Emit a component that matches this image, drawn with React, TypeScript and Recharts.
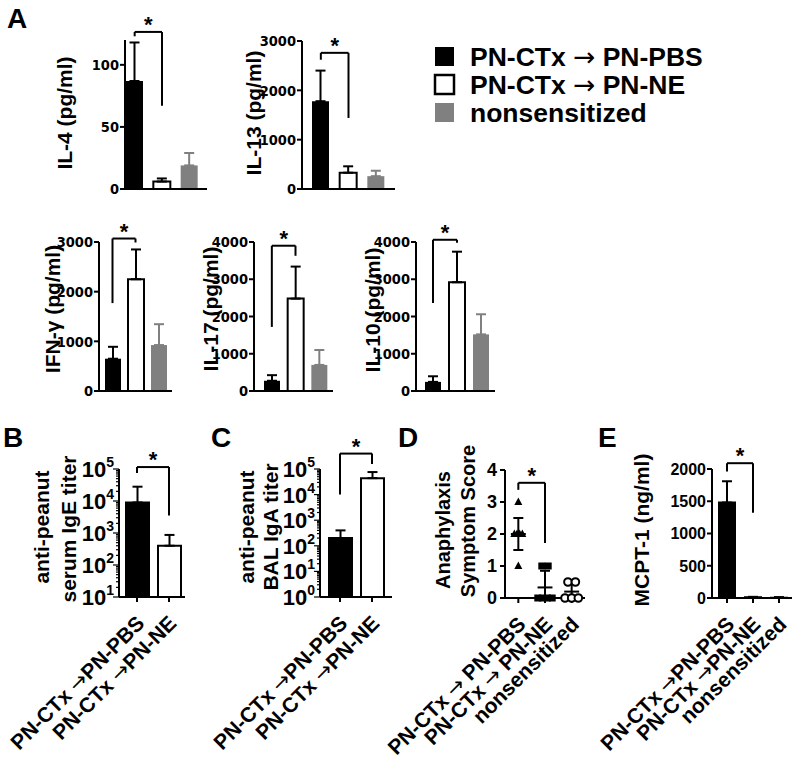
import React from 'react';
import { BarChart, Bar, XAxis, YAxis, ErrorBar, ReferenceLine, Cell, ComposedChart, Scatter } from 'recharts';

const FONT = '"Liberation Sans", Arial, Helvetica, sans-serif';
const NARROW = '"Liberation Sans Narrow", "Arial Narrow", "DejaVu Sans Condensed", sans-serif';
const ARROW_FONT = '"DejaVu Sans", sans-serif';
const GRAY = '#808080';

// group names
const groupsA = ['PN-CTx → PN-PBS', 'PN-CTx → PN-NE', 'nonsensitized'];
const groupsBC = ['PN-CTx →PN-PBS', 'PN-CTx →PN-NE'];
const groupsD = ['PN-CTx → PN-PBS', 'PN-CTx → PN-NE', 'nonsensitized'];
const groupsE = ['PN-CTx →PN-PBS', 'PN-CTx →PN-NE', 'nonsensitized'];

// panel A cytokines (pg/ml): mean and upper error
const il4Mean = [87, 6, 19];
const il4Err = [31, 2.5, 10];
const il13Mean = [1780, 330, 260];
const il13Err = [620, 130, 110];
const ifnMean = [650, 2250, 925];
const ifnErr = [240, 600, 420];
const il17Mean = [275, 2480, 700];
const il17Err = [150, 860, 400];
const il10Mean = [245, 2920, 1520];
const il10Err = [150, 820, 540];

const il4Ticks = [0, 50, 100];
const il13Ticks = [0, 1000, 2000, 3000];
const ifnTicks = [0, 1000, 2000, 3000];
const il4kTicks = [0, 1000, 2000, 3000, 4000];

// panel B / C titers
const igeMean = [9000, 400];
const igeErr = [19000, 470];
const igaMean = [200, 44000];
const igaErr = [200, 32000];
const decadesB = [10, 100, 1000, 10000, 100000];
const decadesC = [1, 10, 100, 1000, 10000, 100000];
const minorSteps = [2, 3, 4, 5, 6, 7, 8, 9];

// panel D anaphylaxis scores (individual mice)
const dScoresPbs = [3, 2, 2, 2, 2, 1];
const dSpreadPbs = [0, -0.15, -0.05, 0.05, 0.15, 0];
const dScoresNe = [1, 1, 0, 0, 0, 0];
const dSpreadNe = [-0.12, 0.12, -0.27, -0.09, 0.09, 0.27];
const dScoresNon = [0.5, 0.5, 0, 0, 0];
const dSpreadNon = [-0.14, 0.14, -0.25, 0, 0.25];
const dMeans = [2, 0.33, 0.2];
const dErrs = [[0.5, 0.5], [0.33, 0.52], [0.2, 0.27]];
const dTicks = [0, 1, 2, 3, 4];

// panel E MCPT-1 (ng/ml)
const mcptMean = [1480, 12, 8];
const mcptErr = [330, 6, 5];
const mcptTicks = [0, 500, 1000, 1500, 2000];

const axisStyle = { stroke: '#000', strokeWidth: 2 };

const cytoKeys = ['pbs', 'ne', 'non'];
function cytoRows(mean: number[], err: number[]) {
  return groupsA.map((name, i) => {
    const row: any = { name };
    cytoKeys.forEach((k, j) => {
      row[k] = i === j ? mean[i] : null;
      row[k + 'Err'] = i === j ? [0, err[i]] : null;
    });
    return row;
  });
}
const cytoSeries = [
  { key: 'pbs', fill: '#000', stroke: 'none', err: '#000' },
  { key: 'ne', fill: '#fff', stroke: '#000', err: '#000' },
  { key: 'non', fill: GRAY, stroke: 'none', err: GRAY },
];

function simpleRows(names: string[], mean: number[], err: number[]) {
  return names.map((name, i) => ({ name, v: mean[i], vErr: [0, err[i]] }));
}

function logTicks(decades: number[]) {
  const out: number[] = [];
  decades.forEach((d, i) => {
    out.push(d);
    if (i < decades.length - 1) minorSteps.forEach((m) => out.push(d * m));
  });
  return out;
}

// splits a label so the arrow can use a font with a wide arrow glyph
function withArrow(text: string) {
  const parts = text.split('→');
  if (parts.length < 2) return text;
  return [
    <tspan key="a">{parts[0]}</tspan>,
    <tspan key="b" fontFamily={ARROW_FONT} fontWeight={400}>→</tspan>,
    <tspan key="c">{parts[1]}</tspan>,
  ];
}

const LogTick = (props: any) => {
  const { x, y, payload } = props;
  const lg = Math.log10(payload.value);
  const exp = Math.round(lg);
  const major = Math.abs(lg - exp) < 1e-6;
  return (
    <g>
      <line x1={x - (major ? 6 : 3)} x2={x} y1={y} y2={y} stroke="#000" strokeWidth={1.2} />
      {major && (
        <text x={x - 5} y={y + 8} textAnchor="end" fontSize={22} fontWeight={700} fontFamily={FONT} fill="#000">
          <tspan>10</tspan>
          <tspan dy={-10} fontSize={14}>{exp}</tspan>
        </text>
      )}
    </g>
  );
};

const numTick = (size: number, family: string) => (props: any) => {
  const { x, y, payload } = props;
  return (
    <text x={x} y={y + size * 0.36} textAnchor="end" fontSize={size} fontWeight={700} fontFamily={family} fill="#000">
      {payload.value}
    </text>
  );
};

const slantTick = (labels?: string[]) => (props: any) => {
  const { x, y, payload } = props;
  const text = labels ? labels[Math.round(payload.value) - 1] : payload.value;
  const px = x - 2;
  const py = y + 10;
  return (
    <text x={px} y={py} transform={`rotate(-45 ${px} ${py})`} textAnchor="end" dominantBaseline="hanging"
      fontSize={21} fontWeight={700} fontFamily={FONT} fill="#000">
      {withArrow(text)}
    </text>
  );
};

function Bracket(p: { a: any; b: any; yL: number; yT: number; yR: number }) {
  const common = { stroke: '#000', strokeWidth: 2, ifOverflow: 'visible' as const, xAxisId: 'g' };
  return [
    <ReferenceLine key="l" {...common} segment={[{ x: p.a, y: p.yL }, { x: p.a, y: p.yT }]} />,
    <ReferenceLine key="t" {...common} segment={[{ x: p.a, y: p.yT }, { x: p.b, y: p.yT }]}
      label={{ value: '*', position: 'top', offset: 0, fill: '#000', fontSize: 22, fontWeight: 700, fontFamily: FONT }} />,
    <ReferenceLine key="r" {...common} segment={[{ x: p.b, y: p.yT }, { x: p.b, y: p.yR }]} />,
  ];
}

type PanelProps = {
  left: number; top: number; w: number; h: number;
  rows: any[]; series: any[]; cells?: { fill: string; stroke: string }[];
  domain: [number, number]; ticks: number[]; log?: boolean;
  padL: number; padR: number; barSize: number; tickFont?: number; tickFamily?: string;
  bracket: { yL: number; yT: number; yR: number };
  xLabels?: boolean;
};

function BarPanel(p: PanelProps) {
  const YW = p.xLabels ? 140 : 80;
  const MT = 50;
  const MR = 12;
  const XH = p.xLabels ? 180 : 12;
  const names = p.rows.map((r) => r.name);
  return (
    <div style={{ position: 'absolute', left: p.left - YW, top: p.top - MT }}>
      <BarChart width={YW + p.w + MR} height={MT + p.h + XH} data={p.rows}
        margin={{ top: MT, right: MR, bottom: 0, left: 0 }} barCategoryGap={0} barGap={0}>
        <XAxis dataKey="name" xAxisId="g" height={XH} padding={{ left: p.padL, right: p.padR }}
          axisLine={axisStyle} tickLine={axisStyle} tickSize={5} interval={0}
          tick={p.xLabels ? slantTick() : false} />
        {p.log ? (
          <YAxis width={YW} scale="log" domain={p.domain} allowDataOverflow ticks={p.ticks} interval={0}
            axisLine={axisStyle} tickLine={false} tickSize={0} tickMargin={0} tick={<LogTick />} />
        ) : (
          <YAxis width={YW} domain={p.domain} ticks={p.ticks} interval={0} axisLine={axisStyle}
            tickLine={axisStyle} tickSize={5} tickMargin={1}
            tick={numTick(p.tickFont || 14.5, p.tickFamily || NARROW)} />
        )}
        {p.series.map((s) => (
          <Bar key={s.key} dataKey={s.key} xAxisId="g" stackId="s" fill={s.fill} stroke={s.stroke}
            strokeWidth={2} barSize={p.barSize} isAnimationActive={false}>
            {p.cells && p.cells.map((c, i) => <Cell key={i} fill={c.fill} stroke={c.stroke} />)}
            <ErrorBar dataKey={s.key + 'Err'} direction="y" width={5} stroke={s.err} strokeWidth={2} />
          </Bar>
        ))}
        {Bracket({ a: names[0], b: names[1], ...p.bracket })}
      </BarChart>
    </div>
  );
}

const triShape = (pr: any) => (
  <polygon points={`${pr.cx},${pr.cy - 4.5} ${pr.cx - 4},${pr.cy + 3} ${pr.cx + 4},${pr.cy + 3}`} fill="#000" />
);
const sqShape = (pr: any) => <rect x={pr.cx - 3.5} y={pr.cy - 3.5} width={7} height={7} fill="#000" />;
const circShape = (pr: any) => <circle cx={pr.cx} cy={pr.cy} r={3.8} fill="#fff" stroke="#000" strokeWidth={2} />;
const noShape = () => <g />;

function pts(base: number, scores: number[], spread: number[]) {
  return scores.map((s, i) => ({ x: base + spread[i], y: s }));
}

function PanelD() {
  const left = 505, top = 470, w = 80, h = 128;
  const YW = 140, MT = 50, MR = 12, XH = 180;
  const means = dMeans.map((m, i) => ({ x: i + 1, y: m, sd: dErrs[i], xw: 0.28 }));
  return (
    <div style={{ position: 'absolute', left: left - YW, top: top - MT }}>
      <ComposedChart width={YW + w + MR} height={MT + h + XH} margin={{ top: MT, right: MR, bottom: 0, left: 0 }}>
        <XAxis type="number" dataKey="x" xAxisId="g" domain={[0.5, 3.5]} ticks={[1, 2, 3]} interval={0} height={XH}
          axisLine={axisStyle} tickLine={axisStyle} tickSize={5} tick={slantTick(groupsD)} />
        <YAxis type="number" dataKey="y" width={YW} domain={[0, 4]} ticks={dTicks} interval={0} axisLine={axisStyle}
          tickLine={axisStyle} tickSize={5} tickMargin={3} tick={numTick(18, FONT)} />
        <Scatter xAxisId="g" data={pts(1, dScoresPbs, dSpreadPbs)} shape={triShape} isAnimationActive={false} />
        <Scatter xAxisId="g" data={pts(2, dScoresNe, dSpreadNe)} shape={sqShape} isAnimationActive={false} />
        <Scatter xAxisId="g" data={pts(3, dScoresNon, dSpreadNon)} shape={circShape} isAnimationActive={false} />
        <Scatter xAxisId="g" data={means} shape={noShape} isAnimationActive={false}>
          <ErrorBar dataKey="sd" direction="y" width={5} stroke="#000" strokeWidth={2} />
          <ErrorBar dataKey="xw" direction="x" width={0} stroke="#000" strokeWidth={2} />
        </Scatter>
        {Bracket({ a: 1, b: 2, yL: 3.38, yT: 3.6, yR: 1.72 })}
      </ComposedChart>
    </div>
  );
}

function YLabel(p: { x: number; y: number; text: string; size?: number }) {
  return (
    <text x={p.x} y={p.y} transform={`rotate(-90 ${p.x} ${p.y})`} textAnchor="middle" dominantBaseline="central"
      fontSize={p.size || 21} fontWeight={700} fontFamily={FONT} fill="#000">
      {p.text}
    </text>
  );
}

function Letter(p: { x: number; y: number; t: string }) {
  return <text x={p.x} y={p.y} fontSize={28} fontWeight={700} fontFamily={FONT} fill="#000">{p.t}</text>;
}

const legendItems = [
  { label: 'PN-CTx → PN-PBS', fill: '#000', stroke: 'none' },
  { label: 'PN-CTx → PN-NE', fill: '#fff', stroke: '#000' },
  { label: 'nonsensitized', fill: GRAY, stroke: 'none' },
];

export default function App() {
  return (
    <div style={{ position: 'absolute', left: 0, top: 0, width: 800, height: 761, background: '#fff', overflow: 'hidden', fontFamily: FONT }}>
      <BarPanel left={125} top={40} w={82} h={149} rows={cytoRows(il4Mean, il4Err)} series={cytoSeries}
        domain={[0, 120]} ticks={il4Ticks} padL={-4} padR={4} barSize={17} bracket={{ yL: 123, yT: 126.5, yR: 67 }} />
      <BarPanel left={302} top={41} w={93} h={148} rows={cytoRows(il13Mean, il13Err)} series={cytoSeries}
        domain={[0, 3000]} ticks={il13Ticks} padL={5} padR={5} barSize={17} bracket={{ yL: 2620, yT: 2760, yR: 1440 }} />
      <BarPanel left={99} top={242} w={73} h={149} rows={cytoRows(ifnMean, ifnErr)} series={cytoSeries}
        domain={[0, 3000]} ticks={ifnTicks} padL={2} padR={2} barSize={16} bracket={{ yL: 1770, yT: 3070, yR: 2990 }} />
      <BarPanel left={254} top={242} w={79} h={149} rows={cytoRows(il17Mean, il17Err)} series={cytoSeries}
        domain={[0, 4000]} ticks={il4kTicks} padL={6} padR={2} barSize={16} bracket={{ yL: 1720, yT: 3900, yR: 3630 }} />
      <BarPanel left={416} top={242} w={79} h={149} rows={cytoRows(il10Mean, il10Err)} series={cytoSeries}
        domain={[0, 4000]} ticks={il4kTicks} padL={5} padR={2} barSize={16} bracket={{ yL: 2360, yT: 4060, yR: 3980 }} />

      <BarPanel left={119} top={469} w={66} h={128} rows={simpleRows(groupsBC, igeMean, igeErr)}
        series={[{ key: 'v', fill: '#000', stroke: '#000', err: '#000' }]}
        cells={[{ fill: '#000', stroke: '#000' }, { fill: '#fff', stroke: '#000' }]}
        domain={[10, 100000]} ticks={logTicks(decadesB)} log padL={2} padR={0} barSize={23} xLabels
        bracket={{ yL: 75000, yT: 115000, yR: 3500 }} />
      <BarPanel left={320} top={469} w={72} h={128} rows={simpleRows(groupsBC, igaMean, igaErr)}
        series={[{ key: 'v', fill: '#000', stroke: '#000', err: '#000' }]}
        cells={[{ fill: '#000', stroke: '#000' }, { fill: '#fff', stroke: '#000' }]}
        domain={[1, 100000]} ticks={logTicks(decadesC)} log padL={4} padR={4} barSize={23} xLabels
        bracket={{ yL: 10000, yT: 400000, yR: 157000 }} />
      <PanelD />
      <BarPanel left={712} top={469} w={80} h={129} rows={simpleRows(groupsE, mcptMean, mcptErr)}
        series={[{ key: 'v', fill: '#000', stroke: '#000', err: '#000' }]}
        cells={[{ fill: '#000', stroke: '#000' }, { fill: '#fff', stroke: '#000' }, { fill: GRAY, stroke: GRAY }]}
        domain={[0, 2000]} ticks={mcptTicks} padL={2} padR={0} barSize={16} tickFont={16} tickFamily={FONT} xLabels
        bracket={{ yL: 1960, yT: 2090, yR: 1320 }} />

      <svg width={800} height={761} style={{ position: 'absolute', left: 0, top: 0, pointerEvents: 'none' }}>
        <Letter x={7} y={28} t="A" />
        <Letter x={3} y={447} t="B" />
        <Letter x={211} y={447} t="C" />
        <Letter x={398} y={447} t="D" />
        <Letter x={598} y={447} t="E" />
        <YLabel x={64} y={113} text="IL-4 (pg/ml)" />
        <YLabel x={253} y={113} text="IL-13 (pg/ml)" />
        <YLabel x={52} y={309} text="IFN-γ (pg/ml)" />
        <YLabel x={210} y={309} text="IL-17 (pg/ml)" />
        <YLabel x={372} y={310} text="IL-10 (pg/ml)" />
        <YLabel x={41} y={527} text="anti-peanut" />
        <YLabel x={68} y={529} text="serum IgE titer" />
        <YLabel x={246} y={527} text="anti-peanut" />
        <YLabel x={270} y={527} text="BAL IgA titer" />
        <YLabel x={443} y={530} text="Anaphylaxis" size={20} />
        <YLabel x={468} y={521} text="Symptom Score" size={20} />
        <YLabel x={641} y={530} text="MCPT-1 (ng/ml)" />
        {legendItems.map((it, i) => (
          <g key={it.label}>
            <rect x={435} y={47 + i * 28} width={19} height={19} fill={it.fill} stroke={it.stroke} strokeWidth={2.5} />
            <text x={470} y={66 + i * 28} fontSize={26.5} fontWeight={700} fontFamily={FONT} fill="#000">
              {withArrow(it.label)}
            </text>
          </g>
        ))}
      </svg>
    </div>
  );
}
